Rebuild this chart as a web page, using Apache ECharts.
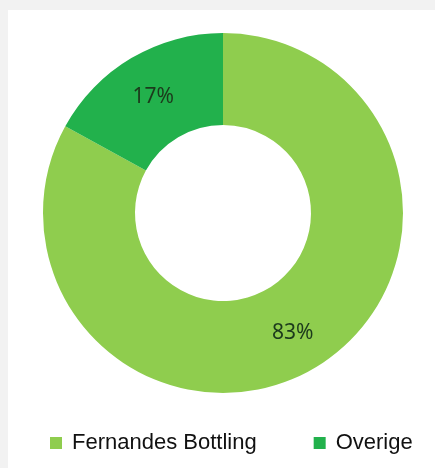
<!DOCTYPE html>
<html>
<head>
<meta charset="utf-8">
<script src="https://cdn.jsdelivr.net/npm/echarts@6/dist/echarts.min.js"></script>
<style>
  html, body { margin: 0; padding: 0; background: #f2f2f2; }
  #card { position: absolute; left: 8px; top: 10px; width: 427px; height: 458px; background: #ffffff; }
  #main { position: absolute; left: 0; top: 0; width: 435px; height: 468px; }
</style>
</head>
<body>
<div id="card"></div>
<div id="main"></div>
<script>
var categories = ['Fernandes Bottling', 'Overige'];
var shares = [83, 17]; // procent
var colors = ['#8fcd4e', '#22b14c'];

var pieData = [];
for (var i = 0; i < categories.length; i++) {
	pieData.push({ name: categories[i], value: shares[i], itemStyle: { color: colors[i] } });
}

var myChart = echarts.init(document.getElementById('main'));
var option = {
	animation: false,
	legend: {
		top: 427,
		left: 45,
		icon: 'rect',
		itemWidth: 12,
		itemHeight: 12,
		itemGap: 57,
		data: categories,
		textStyle: {
			fontFamily: 'Liberation Sans',
			fontSize: 22,
			color: '#111111',
			padding: [0, 0, 0, 5]
		}
	},
	series: [
		{
			type: 'pie',
			center: [223, 213],
			radius: [88, 180],
			startAngle: 90,
			clockwise: true,
			data: pieData,
			label: {
				show: true,
				position: 'inside',
				formatter: function (p) { return p.value + '%'; },
				fontFamily: 'Noto Sans',
				fontSize: 21,
				color: '#1c3a1c',
				offset: [0, 2]
			},
			labelLine: { show: false },
			emphasis: { disabled: true }
		}
	]
};
myChart.setOption(option);
</script>
</body>
</html>
